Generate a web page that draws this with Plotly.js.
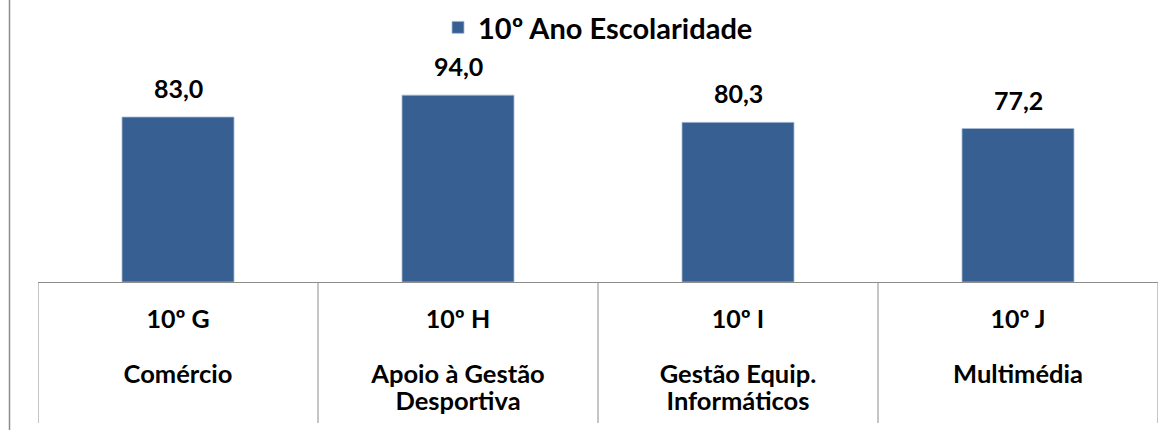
<!DOCTYPE html>
<html>
<head>
<meta charset="utf-8">
<script src="https://cdn.plot.ly/plotly-3.0.1.min.js"></script>
<style>
  html, body { margin: 0; padding: 0; background: #ffffff; }
  #chart { width: 1173px; height: 430px; }
</style>
</head>
<body>
<div id="chart"></div>
<script>
// ---- data ----
const seriesName = "10º Ano Escolaridade";
const classCodes = ["10º G", "10º H", "10º I", "10º J"];
const courseNames = [["Comércio"], ["Apoio à Gestão", "Desportiva"], ["Gestão Equip.", "Informáticos"], ["Multimédia"]];
const values = [83.0, 94.0, 80.3, 77.2];

// ---- layout constants (pixels) ----
const W = 1173, H = 430;
const mL = 38, mR = 15, mT = 75, mB = 148;
const plotH = H - mT - mB;
const plotW = W - mL - mR;
const FONT = "Lato, 'Open Sans', sans-serif";
const grey = "#8c8c8c";
const barColor = "#375f92";

function fmt(v) { return v.toFixed(1).replace(".", ","); }
function pyFromPx(px) { return (H - mB - px) / plotH; }  // pixel row -> paper y
function pxToPaperX(px) { return (px - mL) / plotW; }

// tick label text: code, blank line, course name lines (bigger glyphs, tighter line step)
const big = s => '<span style="font-size:25.5px">' + s + '</span>';
const tickText = classCodes.map((c, i) =>
  '<span style="font-size:25px">' + c + '</span><br> <br>' + courseNames[i].map(big).join('<br>'));

const trace = {
  type: "bar",
  name: seriesName,
  x: classCodes,
  y: values,
  marker: { color: barColor, line: { color: "#a9bdd6", width: 0.8 } },
  hoverinfo: "x+y"
};

const annotations = classCodes.map((c, i) => ({
  x: c, y: values[i], xref: "x", yref: "y",
  text: fmt(values[i]), showarrow: false,
  yanchor: "bottom", yshift: 12,
  font: { family: FONT, size: 25, color: "#000", weight: "bold" }
}));

const shapes = [];
for (let i = 0; i <= classCodes.length; i++) {
  shapes.push({
    type: "line", xref: "x", yref: "paper",
    x0: i - 0.5, x1: i - 0.5, y0: 0, y1: pyFromPx(423),
    line: { color: grey, width: 1 }
  });
}
// outer chart-area border on the left
shapes.push({
  type: "line", xref: "paper", yref: "paper",
  x0: pxToPaperX(9.5), x1: pxToPaperX(9.5),
  y0: pyFromPx(430), y1: pyFromPx(0),
  line: { color: grey, width: 1.5 }
});

const layout = {
  width: W, height: H,
  margin: { l: mL, r: mR, t: mT, b: mB, pad: 0, autoexpand: false },
  paper_bgcolor: "#ffffff", plot_bgcolor: "#ffffff",
  font: { family: FONT, color: "#000" },
  showlegend: true,
  legend: {
    orientation: "h", x: pxToPaperX(438), xanchor: "left",
    y: pyFromPx(2), yanchor: "top",
    font: { family: FONT, size: 29, color: "#000", weight: "bold" },
    bgcolor: "rgba(0,0,0,0)"
  },
  bargap: 0.6,
  xaxis: {
    type: "category", range: [-0.5, classCodes.length - 0.5],
    showline: true, linecolor: grey, linewidth: 1,
    showgrid: false, zeroline: false,
    tickmode: "array", tickvals: classCodes, ticktext: tickText,
    ticks: "outside", ticklen: 20, tickcolor: "rgba(0,0,0,0)",
    tickfont: { family: FONT, size: 21, color: "#000", weight: "bold" },
    automargin: false,
    fixedrange: true
  },
  yaxis: {
    range: [0, plotH / 1.988],
    visible: false, showgrid: false, zeroline: false, fixedrange: true
  },
  annotations: annotations,
  shapes: shapes
};

Plotly.newPlot("chart", [trace], layout, { displayModeBar: false, staticPlot: true });
</script>
</body>
</html>
